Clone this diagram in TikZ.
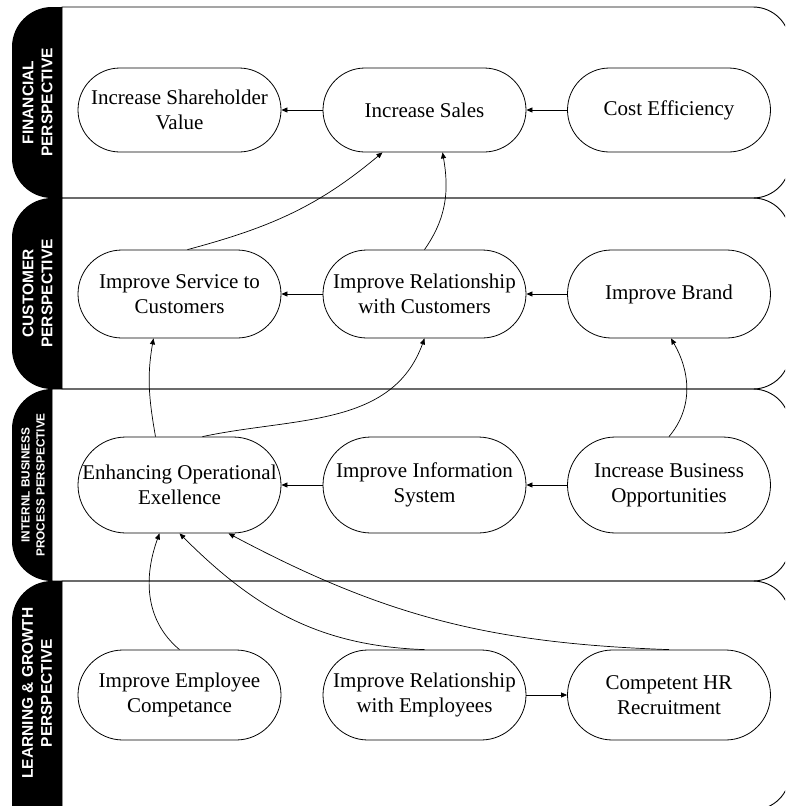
\documentclass[tikz,border=0pt]{standalone}
\usepackage{fontspec}
\setmainfont{Liberation Serif}
\setsansfont{Liberation Sans}
\usetikzlibrary{arrows.meta}

\begin{document}
\begin{tikzpicture}[x=1pt,y=1pt,
		lane/.style={draw, line width=0.9pt},
		obj/.style={draw, line width=0.8pt, rounded corners=#1, minimum width=203pt, minimum height=2*#1, inner sep=0pt, align=center, font=\fontsize{21}{25}\selectfont},
		persp/.style={text=white, rotate=90, align=center, font=\sffamily\bfseries\fontsize{15.5}{19}\selectfont},
		arr/.style={-{Triangle[length=6pt,width=5pt]}, line width=0.7pt}]
		\clip (0,0) rectangle (785,-806);
		\foreach \t/\b/\l/\e in {7/198/62/198, 198/389/62/389, 389/581/52/581, 581/810/62/860}{
				\draw[lane] (\l,-\t) -- (753,-\t) arc[start angle=90, end angle=0, radius=37] -- (790,{-\b+37}) arc[start angle=0, end angle=-90, radius=37] -- (\l,-\b) -- cycle;
				\fill[black] (\l,-\t) -- (52,-\t) arc[start angle=90, end angle=180, radius=40] -- (12,{-\e+40}) arc[start angle=180, end angle=270, radius=40] -- (\l,-\e) -- cycle;
		}
		\node[persp] (finp) at (37.5,-102.5) {FINANCIAL\\PERSPECTIVE};
		\node[persp] (custp) at (37.5,-293.5) {CUSTOMER\\PERSPECTIVE};
		\node[persp, font=\sffamily\bfseries\fontsize{11.8}{15}\selectfont] (intp) at (33,-485) {INTERNL BUSINESS\\PROCESS PERSPECTIVE};
		\node[persp] (learnp) at (37,-693) {LEARNING \& GROWTH\\PERSPECTIVE};

		\node[obj=42pt] (shv) at (179.5,-110) {Increase Shareholder\\Value};
		\node[obj=42pt] (sales) at (424.5,-110) {Increase Sales};
		\node[obj=42pt] (cost) at (669,-110) {Cost Efficiency};
		\node[obj=44pt] (svc) at (179.5,-294) {Improve Service to\\Customers};
		\node[obj=44pt] (relc) at (424.5,-294) {Improve Relationship\\with Customers};
		\node[obj=44pt] (brand) at (669,-294) {Improve Brand};
		\node[obj=48pt] (ops) at (179.5,-485) {Enhancing Operational\\Exellence};
		\node[obj=48pt] (info) at (424.5,-485) {Improve Information\\System};
		\node[obj=48pt] (biz) at (669,-485) {Increase Business\\Opportunities};
		\node[obj=45pt] (emp) at (179.5,-695) {Improve Employee\\Competance};
		\node[obj=45pt] (rele) at (424.5,-695) {Improve Relationship\\with Employees};
		\node[obj=45pt] (hr) at (669,-695) {Competent HR\\Recruitment};

		\draw[arr] (sales) -- (shv);
		\draw[arr] (cost) -- (sales);
		\draw[arr] (relc) -- (svc);
		\draw[arr] (brand) -- (relc);
		\draw[arr] (info) -- (ops);
		\draw[arr] (biz) -- (info);
		\draw[arr] (rele) -- (hr);

		\draw[arr] ([xshift=8pt]svc.north) to[out=15,in=-140] ([xshift=-42pt]sales.south);
		\draw[arr] (relc.north) to[out=55,in=-80] ([xshift=18pt]sales.south);
		\draw[arr] ([xshift=-24pt]ops.north) to[out=100,in=-100] ([xshift=-26pt]svc.south);
		\draw[arr] ([xshift=23pt]ops.north) to[out=12,in=-110] (relc.south);
		\draw[arr] (biz.north) to[out=50,in=-60] ([xshift=2pt]brand.south);
		\draw[arr] (emp.north) to[out=140,in=-110] ([xshift=-20pt]ops.south);
		\draw[arr] (rele.north) to[out=178,in=-45] (ops.south);
		\draw[arr] (hr.north) to[out=178,in=-28] ([xshift=49pt]ops.south);
\end{tikzpicture}
\end{document}
